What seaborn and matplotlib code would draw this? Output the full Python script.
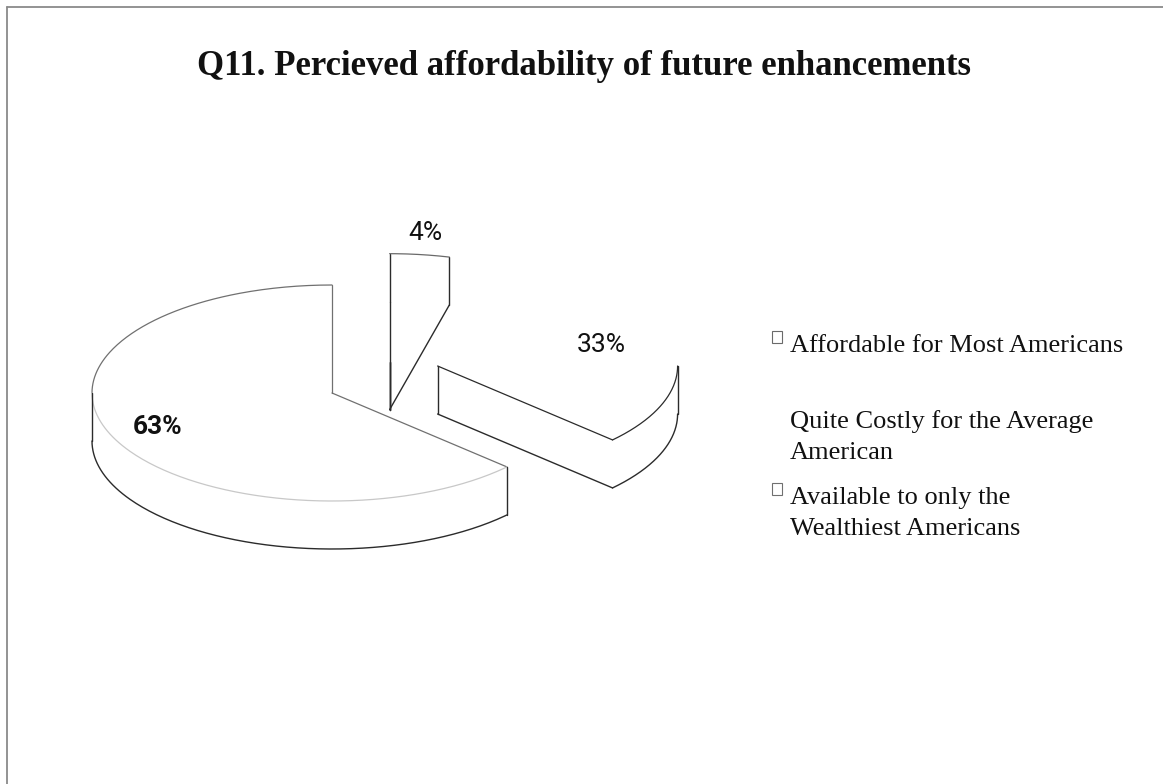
import textwrap

import numpy as np
import matplotlib
matplotlib.use("Agg")
import matplotlib.pyplot as plt
from matplotlib.patches import Polygon, Rectangle
import seaborn as sns

# ---- data -------------------------------------------------------------
title = "Q11. Percieved affordability of future enhancements"
categories = [
    "Affordable for Most Americans",
    "Quite Costly for the Average American",
    "Available to only the Wealthiest Americans",
]
shares = [4, 33, 63]  # percent of respondents

# ---- style ------------------------------------------------------------
edge_top = ["#6a6a6a", "none", "#707070"]       # top-face outline not shared with a wall
edge_shared = ["none", "#2b2b2b", "#c8c8c8"]    # top-face outline shared with a visible wall
edge_side = "#2b2b2b"                           # wall outlines
explode = [(0.24, 0.29), (0.44, 0.25), (0.0, 0.0)]  # slice offset, fraction of (rx, ry)
label_dist = [1.2, 0.71, 0.79]
label_size = [19, 19, 19]
label_weight = ["normal", "normal", "bold"]

sns.set_theme(style="white")
plt.rcParams["font.family"] = ["Liberation Serif", "DejaVu Serif"]

fig = plt.figure(figsize=(11.63, 7.84), dpi=100)
ax = fig.add_axes([0, 0, 1, 1])
ax.set_xlim(0, 1163)
ax.set_ylim(784, 0)
ax.axis("off")

# pie geometry (tilted disc seen from the front, pixel-like units, y down)
cx, cy = 332, 393
rx, ry, depth = 240, 108, 48
down = np.array([0.0, depth])


def rim_pt(c, th):
    return np.array([c[0] + rx * np.cos(th), c[1] - ry * np.sin(th)])


def arc(c, a, b, n=160):
    th = np.linspace(a, b, n)
    return np.column_stack([c[0] + rx * np.cos(th), c[1] - ry * np.sin(th)])


def face_visible(normal, c):
    s = np.sin(normal)
    if abs(s) < 1e-6:  # edge-on cut: seen when it turns toward the middle
        return np.cos(normal) * (c[0] - cx) < 0
    return s < 0


def line(pts, color, lw, z):
    if color == "none":
        return
    pts = np.asarray(pts)
    ax.plot(pts[:, 0], pts[:, 1], color=color, lw=lw, zorder=z,
            solid_capstyle="round", solid_joinstyle="round")


fracs = np.array(shares, dtype=float) / sum(shares)
start = np.pi / 2 - 2 * np.pi * np.concatenate([[0.0], np.cumsum(fracs)[:-1]])
end = start - 2 * np.pi * fracs

centers = [np.array((cx + ex * rx, cy - ey * ry)) for ex, ey in explode]
order = sorted(range(len(shares)), key=lambda i: centers[i][1])

for rank, i in enumerate(order):
    c = centers[i]
    lo, hi = end[i], start[i]
    z = 2 + 2 * rank

    cuts = [(lo, lo - np.pi / 2), (hi, hi + np.pi / 2)]
    cut_vis = [face_visible(nrm, c) for _, nrm in cuts]

    walls = []
    for k in range(-2, 3):
        a = max(lo, -np.pi + 2 * np.pi * k)
        b = min(hi, 2 * np.pi * k)
        if b > a:
            walls.append((a, b))

    # fills
    for (ang, _), v in zip(cuts, cut_vis):
        if v:
            p = rim_pt(c, ang)
            ax.add_patch(Polygon([c, p, p + down, c + down], closed=True,
                                 fc="white", ec="none", zorder=z))
    for a, b in walls:
        top = arc(c, a, b)
        ax.add_patch(Polygon(np.vstack([top, (top + down)[::-1]]), closed=True,
                             fc="white", ec="none", zorder=z))
    ax.add_patch(Polygon(np.vstack([c, arc(c, lo, hi)]), closed=True,
                         fc="white", ec="none", zorder=z))

    # outlines
    lz = z + 1
    wall_ends = [e for ab in walls for e in ab]
    for (ang, _), v in zip(cuts, cut_vis):
        p = rim_pt(c, ang)
        line([c, p], edge_shared[i] if v else edge_top[i], 0.9, lz)
        if v:
            if not any(np.isclose(ang, e) for e in wall_ends):
                line([p, p + down], edge_side, 1.0, lz)
            line([p + down, c + down], edge_side, 1.0, lz)
            line([c + down, c], edge_side, 1.0, lz)

    breaks = [lo] + [m * np.pi for m in range(-4, 5) if lo < m * np.pi < hi] + [hi]
    for a, b in zip(breaks[:-1], breaks[1:]):
        front = np.sin((a + b) / 2) < 0
        line(arc(c, a, b), edge_shared[i] if front else edge_top[i], 0.9, lz)

    cut_angles = [ang for (ang, _), v in zip(cuts, cut_vis) if v]
    for a, b in walls:
        line(arc(c, a, b) + down, edge_side, 1.0, lz)
        for e in (a, b):
            if not any(np.isclose(e, ca) for ca in cut_angles):
                p = rim_pt(c, e)
                line([p, p + down], edge_side, 1.0, lz)

    # percentage label
    mid = (lo + hi) / 2
    lx = c[0] + label_dist[i] * rx * np.cos(mid)
    ly = c[1] - label_dist[i] * ry * np.sin(mid)
    ax.text(lx, ly, f"{shares[i]}%", ha="center", va="center",
            fontsize=label_size[i], fontweight=label_weight[i],
            fontstyle="normal", family=["Roboto", "DejaVu Sans"],
            color="#111111", zorder=20)

# title
ax.text(584, 66, title, ha="center", va="center", fontsize=25,
        fontweight="bold", color="#111111")

# legend: square key beside the first line of each wrapped entry
leg_x, leg_y, slot, pitch = 790, 352, 76, 31
for i, name in enumerate(categories):
    y = leg_y + i * slot
    ax.add_patch(Rectangle((772, y - 21), 10, 12, fc="white",
                           ec=edge_top[i], lw=0.8, zorder=5))
    for j, text_line in enumerate(textwrap.wrap(name, 29)):
        ax.text(leg_x, y + j * pitch, text_line, ha="left", va="baseline",
                fontsize=19, color="#111111")

# chart frame
ax.plot([7, 7], [7, 784], color="#8a8a8a", lw=1.3)
ax.plot([7, 1163], [7, 7], color="#8a8a8a", lw=1.3)

fig.savefig("out.png", dpi=100, facecolor="white")
